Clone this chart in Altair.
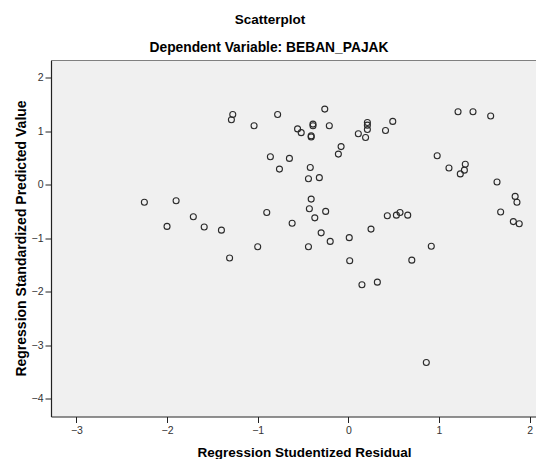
import altair as alt
import pandas as pd

# Regression Studentized Residual (x) and Regression Standardized Predicted Value (y)
resid = [-2.25, -1.90, -2.00, -1.71, -1.59, -1.40, -1.31, -1.275, -1.29, -1.04,
         -1.00, -0.90, -0.86, -0.78, -0.76, -0.65, -0.62, -0.56, -0.52, -0.44,
         -0.44, -0.43, -0.42, -0.41, -0.41, -0.41, -0.39, -0.39, -0.37, -0.32,
         -0.30, -0.26, -0.25, -0.21, -0.20, -0.11, -0.08, 0.01, 0.015, 0.11,
         0.15, 0.19, 0.21, 0.21, 0.21, 0.25, 0.32, 0.41, 0.43, 0.49,
         0.53, 0.57, 0.655, 0.70, 0.86, 0.915, 0.98, 1.11, 1.21, 1.235,
         1.28, 1.29, 1.375, 1.57, 1.64, 1.68, 1.82, 1.84, 1.86, 1.885]
pred = [-0.33, -0.30, -0.78, -0.60, -0.79, -0.85, -1.37, 1.31, 1.21, 1.10,
        -1.16, -0.52, 0.52, 1.31, 0.29, 0.49, -0.72, 1.04, 0.97, 0.11,
        -1.16, -0.45, 0.32, -0.27, 0.91, 0.89, 1.13, 1.10, -0.62, 0.13,
        -0.90, 1.41, -0.50, 1.10, -1.06, 0.57, 0.71, -0.99, -1.42, 0.95,
        -1.87, 0.88, 1.16, 1.11, 1.03, -0.83, -1.82, 1.01, -0.58, 1.18,
        -0.57, -0.52, -0.57, -1.41, -3.32, -1.15, 0.54, 0.31, 1.36, 0.20,
        0.27, 0.38, 1.36, 1.28, 0.05, -0.51, -0.69, -0.22, -0.33, -0.73]

x_ticks = [-3, -2, -1, 0, 1, 2]
y_ticks = [-4, -3, -2, -1, 0, 1, 2]

title_text = "Scatterplot"
subtitle_text = "Dependent Variable: BEBAN_PAJAK"
x_title = "Regression Studentized Residual"
y_title = "Regression Standardized Predicted Value"

df = pd.DataFrame({"resid": resid, "pred": pred})

W, H = 485, 356
FONT = "Liberation Sans"

points = alt.Chart(df).mark_point(
    shape="circle", filled=False, size=36, strokeWidth=1.1, color="#2a2a2a", opacity=1
).encode(
    x=alt.X("resid:Q",
            scale=alt.Scale(domain=[-3.28, 2.07], nice=False, zero=False),
            axis=alt.Axis(values=x_ticks, title=x_title, grid=False,
                          domainColor="#222222", domainWidth=1.2,
                          tickColor="#222222", tickSize=6, tickWidth=1,
                          labelColor="#333333", labelFontSize=10.5, labelFont=FONT,
                          labelPadding=3, labelFlush=False,
                          titleFont=FONT, titleFontSize=13.5, titleFontWeight="bold",
                          titleColor="#000000", titleX=253, titleY=40,
                          titleBaseline="alphabetic", titleAnchor="middle",
                          titleAlign="center")),
    y=alt.Y("pred:Q",
            scale=alt.Scale(domain=[-4.328, 2.317], nice=False, zero=False),
            axis=alt.Axis(values=y_ticks, title=y_title, grid=False,
                          domainColor="#222222", domainWidth=1.2,
                          tickColor="#222222", tickSize=6, tickWidth=1,
                          labelColor="#333333", labelFontSize=10.5, labelFont=FONT,
                          labelPadding=2, labelFlush=False,
                          titleFont=FONT, titleFontSize=14, titleFontWeight="bold",
                          titleColor="#000000", titleX=-26, titleY=177.5,
                          titleBaseline="alphabetic", titleAngle=270,
                          titleAlign="center")),
)

top_frame = alt.Chart(df).mark_rule(color="#808080", strokeWidth=1).encode(
    x=alt.value(0), x2=alt.value(W), y=alt.value(0)
)

title_mark = alt.Chart(pd.DataFrame({"t": [title_text]})).mark_text(
    font=FONT, fontSize=13.5, fontWeight="bold", color="#000000",
    align="center", baseline="alphabetic"
).encode(text="t:N", x=alt.value(219), y=alt.value(-37))

subtitle_mark = alt.Chart(pd.DataFrame({"t": [subtitle_text]})).mark_text(
    font=FONT, fontSize=13.8, fontWeight="bold", color="#000000",
    align="center", baseline="alphabetic"
).encode(text="t:N", x=alt.value(218), y=alt.value(-9))

chart = alt.layer(points, top_frame, title_mark, subtitle_mark).properties(
    width=W, height=H,
    autosize=alt.AutoSizeParams(type="none"),
    padding={"left": 43, "top": 52.5, "right": 0, "bottom": 42.5},
    background="#ffffff",
).configure_view(
    fill="#f0f0f0", stroke=None
)

chart.save("out.html", embed_options={"renderer": "svg", "actions": False})
